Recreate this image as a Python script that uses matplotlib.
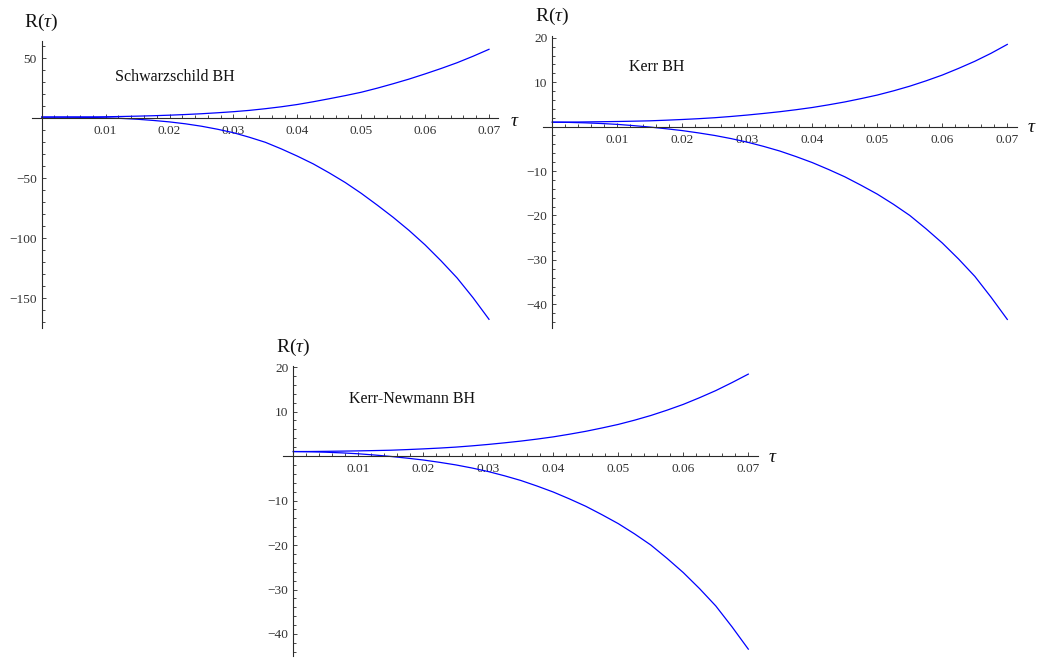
import matplotlib
matplotlib.use("Agg")
import matplotlib.pyplot as plt
from matplotlib.ticker import FixedLocator, MultipleLocator, FuncFormatter

plt.rcParams['font.family'] = ['Liberation Serif', 'DejaVu Serif']
plt.rcParams['mathtext.fontset'] = 'custom'
plt.rcParams['mathtext.rm'] = 'Liberation Serif'
plt.rcParams['mathtext.it'] = 'Liberation Serif:italic'

# tau samples (shared by all panels)
tau = [0.0, 0.0025, 0.005, 0.0075, 0.01, 0.0125, 0.015, 0.0175,
       0.02, 0.0225, 0.025, 0.0275, 0.03, 0.0325, 0.035, 0.0375,
       0.04, 0.0425, 0.045, 0.0475, 0.05, 0.0525, 0.055, 0.0575,
       0.06, 0.0625, 0.065, 0.0675, 0.07]

# Schwarzschild BH
schw_upper = [1.0, 1.03, 1.1, 1.18, 1.3, 1.5, 1.8, 2.15,
              2.6, 3.15, 3.8, 4.6, 5.5, 6.6, 8.0, 9.6,
              11.5, 13.8, 16.3, 18.9, 21.7, 25.1, 28.8, 32.7,
              37.0, 41.5, 46.3, 51.7, 57.5]
schw_lower = [1.0, 0.98, 0.9, 0.7, 0.4, -0.1, -0.8, -1.8,
              -3.0, -4.6, -6.6, -9.1, -12.0, -15.8, -20.0, -25.5,
              -31.5, -38.0, -45.5, -53.5, -62.5, -72.3, -82.5, -93.5,
              -105.5, -118.8, -133.0, -149.5, -167.5]

# Kerr BH
kerr_upper = [1.0, 1.01, 1.05, 1.1, 1.15, 1.22, 1.3, 1.44,
              1.6, 1.78, 2.0, 2.28, 2.6, 2.96, 3.35, 3.8,
              4.3, 4.9, 5.55, 6.3, 7.1, 8.05, 9.1, 10.3,
              11.6, 13.1, 14.7, 16.5, 18.5]
kerr_lower = [1.0, 0.95, 0.85, 0.7, 0.5, 0.22, -0.1, -0.48,
              -0.9, -1.42, -2.0, -2.7, -3.5, -4.45, -5.5, -6.75,
              -8.1, -9.65, -11.3, -13.2, -15.2, -17.5, -20.0, -23.0,
              -26.2, -29.8, -33.7, -38.4, -43.4]

# Kerr-Newmann BH
kn_upper = [1.0, 1.01, 1.05, 1.1, 1.15, 1.22, 1.3, 1.44,
            1.6, 1.78, 2.0, 2.28, 2.6, 2.96, 3.35, 3.8,
            4.3, 4.9, 5.55, 6.3, 7.1, 8.05, 9.1, 10.3,
            11.6, 13.1, 14.7, 16.5, 18.4]
kn_lower = [1.0, 0.95, 0.85, 0.7, 0.5, 0.22, -0.1, -0.48,
            -0.9, -1.42, -2.0, -2.7, -3.5, -4.45, -5.5, -6.75,
            -8.1, -9.65, -11.3, -13.2, -15.2, -17.5, -20.0, -23.0,
            -26.2, -29.8, -33.7, -38.4, -43.4]

x_major = [0.01, 0.02, 0.03, 0.04, 0.05, 0.06, 0.07]
schw_y_major = [-150, -100, -50, 50]
kerr_y_major = [-40, -30, -20, -10, 10, 20]

W, H = 1040, 658
fig = plt.figure(figsize=(W / 100, H / 100), dpi=100)

AX_COLOR = '#2a2a2a'
LABEL_COLOR = '#333333'


def y_fmt(v, pos):
    return f"{v:g}".replace('-', '\u2212')


def make_panel(origin, sx, sy, xext, yext, upper, lower, y_major, y_minor,
               title, title_pos, rlabel_pos, tau_pos):
    ox, oy = origin
    left, right = xext
    top, bottom = yext
    ax = fig.add_axes([left / W, 1 - bottom / H, (right - left) / W, (bottom - top) / H])
    ax.set_xlim((left - ox) / sx, (right - ox) / sx)
    ax.set_ylim(-(bottom - oy) / sy, (oy - top) / sy)
    ax.patch.set_alpha(0)

    ax.plot(tau, upper, color='#0000ff', lw=0.9)
    ax.plot(tau, lower, color='#0000ff', lw=0.9)

    for s in ['top', 'right']:
        ax.spines[s].set_visible(False)
    ax.spines['left'].set_position(('data', 0))
    ax.spines['bottom'].set_position(('data', 0))
    for s in ['left', 'bottom']:
        ax.spines[s].set_color(AX_COLOR)
        ax.spines[s].set_linewidth(0.8)

    ax.xaxis.set_major_locator(FixedLocator(x_major))
    ax.xaxis.set_minor_locator(MultipleLocator(0.002))
    ax.xaxis.set_major_formatter(FuncFormatter(lambda v, p: f"{v:.2f}"))
    ax.yaxis.set_major_locator(FixedLocator(y_major))
    ax.yaxis.set_minor_locator(MultipleLocator(y_minor))
    ax.yaxis.set_major_formatter(FuncFormatter(y_fmt))

    ax.tick_params(which='both', direction='in', color=AX_COLOR, width=0.6,
                   labelcolor=LABEL_COLOR, labelsize=9.6)
    ax.tick_params(which='major', length=3.2)
    ax.tick_params(which='minor', length=2.0)
    ax.tick_params(axis='x', pad=5)
    ax.tick_params(axis='y', pad=3.5)

    fig.text(title_pos[0] / W, 1 - title_pos[1] / H, title, fontsize=11.5,
             ha='left', va='center', color='#111111')
    fig.text(rlabel_pos[0] / W, 1 - rlabel_pos[1] / H, r'$\mathrm{R}(\tau)$',
             fontsize=14, ha='left', va='center', color='#111111')
    fig.text(tau_pos[0] / W, 1 - tau_pos[1] / H, r'$\tau$', fontsize=14,
             ha='center', va='center', color='#111111')
    return ax


make_panel((41.7, 118.3), 6390, 1.2, (31.7, 498.3), (40.7, 328),
           schw_upper, schw_lower, schw_y_major, 10,
           'Schwarzschild BH', (115, 77), (24, 22), (515, 121))
make_panel((552.3, 126.6), 6500, 4.443, (542.7, 1016.7), (36, 328),
           kerr_upper, kerr_lower, kerr_y_major, 2,
           'Kerr BH', (629, 67), (535, 16), (1032, 128))
make_panel((293.3, 456), 6500, 4.45, (283.3, 758.3), (365.7, 656),
           kn_upper, kn_lower, kerr_y_major, 2,
           'Kerr-Newmann BH', (349, 399), (276, 347), (773, 458))

fig.savefig('out.png', dpi=100)
